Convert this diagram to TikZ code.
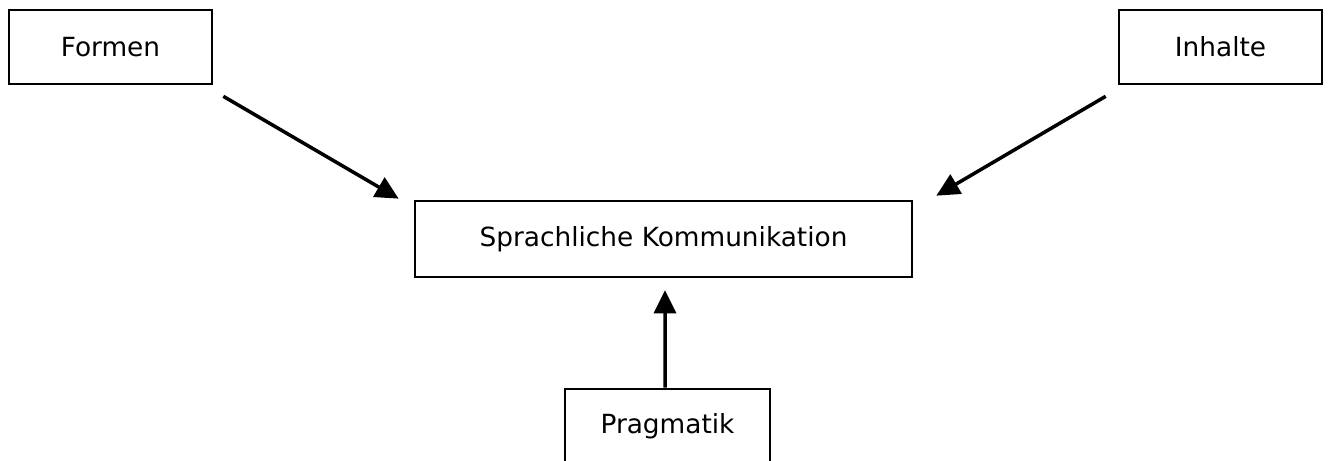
\documentclass[tikz,border=0pt]{standalone}
\usepackage{fontspec}
\setmainfont{DejaVu Sans}
\usepackage{tikz}
\usetikzlibrary{arrows.meta}
\tikzset{
  box/.style={draw=black, line width=1.5pt, minimum width=4.06cm, minimum height=1.48cm,
    inner sep=0pt, font=\fontsize{15}{18}\selectfont},
  widebox/.style={box, minimum width=9.94cm, minimum height=1.52cm},
  arr/.style={line width=2pt, -{Triangle[length=4.6mm,width=4.4mm]}}
}
\begin{document}
\begin{tikzpicture}
\useasboundingbox (0,0) rectangle (26.56,-9.22);
\clip (0,0) rectangle (26.56,-9.22);
% boxes
\node[box] (formen) at (2.21,-0.94) {Formen};
\node[box] (inhalte) at (24.41,-0.94) {Inhalte};
\node[widebox] (sprache) at (13.27,-4.78) {Sprachliche Kommunikation};
\node[box, minimum width=4.1cm] (pragmatik) at (13.35,-8.52) {Pragmatik};

% arrows
\draw[arr] ([shift={(0.2,-0.22)}]formen.south east) -- ([shift={(-0.3,0.02)}]sprache.north west);
\draw[arr] ([shift={(-0.24,-0.22)}]inhalte.south west) -- ([shift={(0.46,0.08)}]sprache.north east);
\draw[arr] ([xshift=-0.05cm]pragmatik.north) -- ([shift={(0.03,-0.24)}]sprache.south);
\end{tikzpicture}
\end{document}
